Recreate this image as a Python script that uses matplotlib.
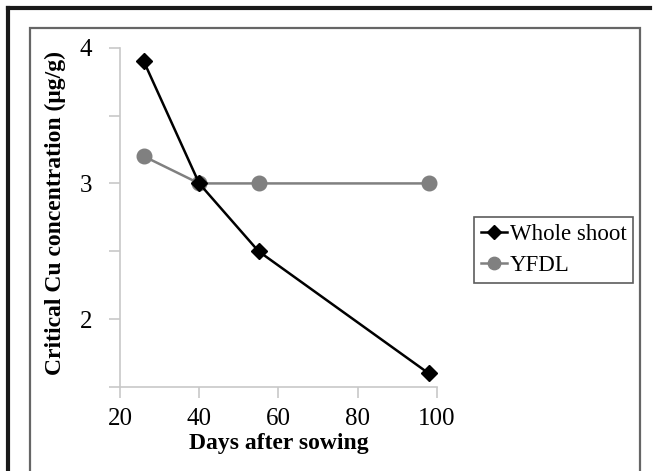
import matplotlib
matplotlib.use("Agg")
import matplotlib.pyplot as plt
from matplotlib.lines import Line2D
from matplotlib.patches import Rectangle

days = [26, 40, 55, 98]
whole_shoot = [3.9, 3.0, 2.5, 1.6]
yfdl = [3.2, 3.0, 3.0, 3.0]
x_ticks = [20, 40, 60, 80, 100]
y_ticks = [1.5, 2.0, 2.5, 3.0, 3.5, 4.0]
y_labels = ["", "2", "", "3", "", "4"]

W, H = 659, 471
fig = plt.figure(figsize=(W / 100, H / 100), dpi=100)
fig.patch.set_facecolor("white")

serif = ["Liberation Serif", "DejaVu Serif"]

# frames
fig.add_artist(Line2D([8 / W, 650 / W], [1 - 8 / H, 1 - 8 / H], transform=fig.transFigure,
                      color="#1a1a1a", lw=3))
fig.add_artist(Line2D([8 / W, 8 / W], [1 - 8 / H, 0], transform=fig.transFigure,
                      color="#1a1a1a", lw=3))
fig.add_artist(Rectangle((30 / W, -0.05), (640 - 30) / W, 1.05 - 28 / H,
                         transform=fig.transFigure, fill=False, ec="#666666", lw=1.6))

ax = fig.add_axes([120 / W, 1 - 387 / H, (436.7 - 120) / W, (387 - 47.7) / H])
ax.plot(days, whole_shoot, color="black", lw=1.8, marker="D", ms=8.5,
        label="Whole shoot", zorder=3)
ax.plot(days, yfdl, color="#808080", lw=1.8, marker="o", ms=10.5,
        label="YFDL", zorder=2)

ax.set_xlim(20, 100)
ax.set_ylim(1.5, 4)
ax.set_xticks(x_ticks)
ax.set_xticklabels([str(v) for v in x_ticks], fontfamily=serif, fontsize=18)
ax.set_yticks(y_ticks)
ax.set_yticklabels(y_labels, fontfamily=serif, fontsize=18)
for s in ["top", "right"]:
    ax.spines[s].set_visible(False)
for s in ["left", "bottom"]:
    ax.spines[s].set_color("#c8c8c8")
    ax.spines[s].set_linewidth(1.2)
ax.tick_params(axis="both", direction="out", length=8, width=1.2, color="#c8c8c8")
ax.tick_params(axis="y", pad=12)
ax.tick_params(axis="x", pad=7)

ax.set_xlabel("Days after sowing", fontfamily=serif, fontsize=17, fontweight="bold")
ax.xaxis.set_label_coords(0.5, -0.135)
ax.set_ylabel("Critical Cu concentration (\u03bcg/g)", fontfamily=serif, fontsize=17,
              fontweight="bold")
ax.yaxis.set_label_coords(-0.17, 0.514)

leg = fig.legend(loc="upper left", bbox_to_anchor=(474 / W, 1 - 216.7 / H),
                 prop={"family": serif, "size": 16.5}, frameon=True, fancybox=False,
                 handlelength=1.15, handletextpad=0.1, borderpad=0.3, labelspacing=0.45,
                 borderaxespad=0, markerscale=0.85)
leg.get_frame().set_edgecolor("#333333")
leg.get_frame().set_linewidth(1.2)

fig.savefig("out.png", dpi=100)
